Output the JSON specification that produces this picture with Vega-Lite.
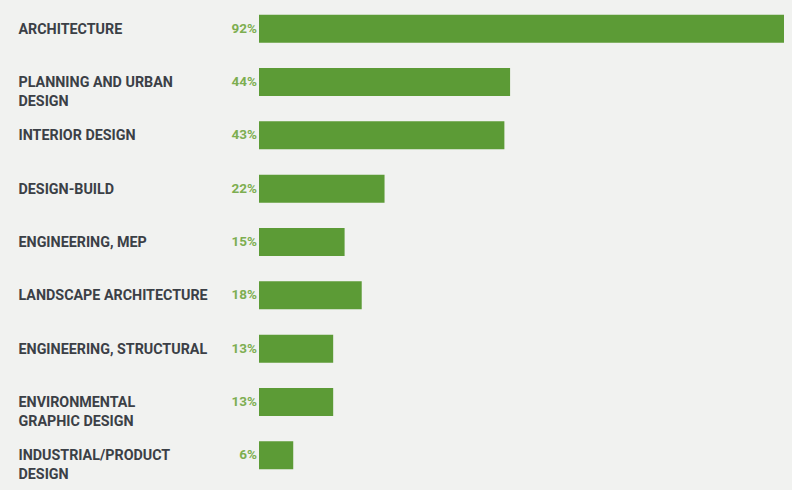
{
  "$schema": "https://vega.github.io/schema/vega-lite/v6.json",
  "autosize": {"type": "none"},
  "width": 525,
  "height": 480,
  "padding": {"left": 259, "top": 2, "right": 8, "bottom": 8},
  "background": "#f1f2f0",
  "config": {"view": {"stroke": null}},
  "data": {"values": [
    {"label": "ARCHITECTURE", "value": 0.92},
    {"label": "PLANNING AND URBAN|DESIGN", "value": 0.44},
    {"label": "INTERIOR DESIGN", "value": 0.43},
    {"label": "DESIGN-BUILD", "value": 0.22},
    {"label": "ENGINEERING, MEP", "value": 0.15},
    {"label": "LANDSCAPE ARCHITECTURE", "value": 0.18},
    {"label": "ENGINEERING, STRUCTURAL", "value": 0.13},
    {"label": "ENVIRONMENTAL|GRAPHIC DESIGN", "value": 0.13},
    {"label": "INDUSTRIAL/PRODUCT|DESIGN", "value": 0.06}
  ]},
  "encoding": {
    "y": {
      "field": "label", "type": "nominal", "sort": null,
      "scale": {"paddingInner": 0.475, "paddingOuter": 0.2375},
      "axis": {
        "title": null, "domain": false, "ticks": false, "tickSize": 0,
        "labelAlign": "left", "labelPadding": 241, "labelBaseline": "alphabetic",
        "labelOffset": 5, "labelLineHeight": 19,
        "labelFont": "Roboto", "labelFontWeight": "bold", "labelFontSize": 14.3,
        "labelColor": "#3b4046", "labelLimit": 300,
        "labelExpr": "split(datum.label, '|')"
      }
    }
  },
  "layer": [
    {
      "mark": {"type": "bar", "color": "#5c9b36"},
      "encoding": {
        "x": {"field": "value", "type": "quantitative", "scale": {"domain": [0, 0.92], "nice": false}, "axis": null}
      }
    },
    {
      "mark": {"type": "text", "align": "right", "baseline": "middle", "dx": -2, "font": "Roboto", "fontWeight": "bold", "fontSize": 13.5, "color": "#7dae50"},
      "encoding": {
        "x": {"datum": 0, "type": "quantitative"},
        "text": {"field": "value", "type": "quantitative", "format": ".0%"}
      }
    }
  ]
}
